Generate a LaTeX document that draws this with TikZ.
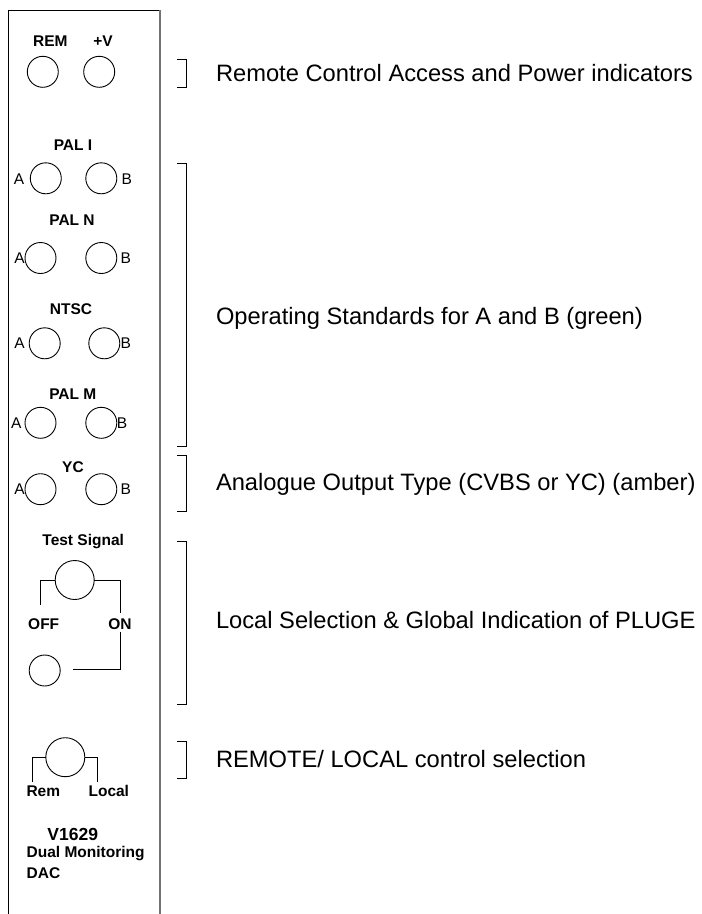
\documentclass[tikz,border=0pt]{standalone}
\usepackage{fontspec}
\setmainfont{Liberation Sans}
\begin{document}
\begin{tikzpicture}[x=1pt,y=-1pt,
  every node/.style={inner sep=0pt, outer sep=0pt},
  lamp/.style={circle, draw, line width=0.9pt, minimum size=31pt},
  bigknob/.style={circle, draw, line width=0.9pt, minimum size=39pt},
  lbl/.style={font=\fontsize{15.5}{18}\selectfont\bfseries, anchor=base},
  ab/.style={font=\fontsize{15.5}{18}\selectfont},
  desc/.style={font=\fontsize{23.7}{28}\selectfont, anchor=base west},
  wire/.style={line width=0.9pt},
  brk/.style={line width=0.9pt}]
\useasboundingbox (0,0) rectangle (702,914);

% front panel outline
\draw[line width=0.9pt] (8,914) -- (8,10) -- (160,10);
\draw[line width=1.3pt, black!55] (160,10) -- (160,914);

% remote / power indicators
\node[lbl] (tREM) at (50.3,46.7) {REM};
\node[lbl] (tPV) at (103,46.7) {+V};
\node[lamp] (rem) at (42.8,71.8) {};
\node[lamp] (pv) at (99.2,71.8) {};

% PAL I
\node[lbl] (tPALI) at (73,150) {PAL I};
\node[lamp] (palia) at (45.8,178.3) {};
\node[lamp] (palib) at (101.3,178.3) {};
\node[ab] (palial) at (19,178.8) {A};
\node[ab] (palibl) at (126.7,178.8) {B};

% PAL N
\node[lbl] (tPALN) at (72,225) {PAL N};
\node[lamp] (palna) at (40.5,258) {};
\node[lamp] (palnb) at (101.3,258) {};
\node[ab] (palnal) at (19.5,258) {A};
\node[ab] (palnbl) at (125.7,258) {B};

% NTSC
\node[lbl] (tNTSC) at (71,314.3) {NTSC};
\node[lamp] (ntsca) at (44.7,343.3) {};
\node[lamp] (ntscb) at (104.3,343.3) {};
\node[ab] (ntscal) at (19.5,343.3) {A};
\node[ab] (ntscbl) at (125.7,343.3) {B};

% PAL M
\node[lbl] (tPALM) at (72.8,399) {PAL M};
\node[lamp] (palma) at (40.5,422.8) {};
\node[lamp] (palmb) at (101.3,422.8) {};
\node[ab] (palmal) at (16.3,423) {A};
\node[ab] (palmbl) at (122,423) {B};

% YC
\node[lbl] (tYC) at (73,472.7) {YC};
\node[lamp] (yca) at (40.5,489.2) {};
\node[lamp] (ycb) at (101.3,489.2) {};
\node[ab] (ycal) at (19.5,489.5) {A};
\node[ab] (ycbl) at (125.7,489.5) {B};

% test signal selector
\node[lbl] (tTest) at (83.2,545.5) {Test Signal};
\node[bigknob] (test) at (74.7,580) {};
\node[lamp] (pluge) at (44.7,670.5) {};
\node[lbl] (tOFF) at (43.7,629) {OFF};
\node[lbl] (tON) at (120,629) {ON};
\coordinate (offend) at (40.7,605);
\coordinate (onend) at (120,613.3);
\coordinate (onresume) at (120,631.7);
\coordinate (plugeend) at (72.7,669);
\draw[wire] (test.west) -- (offend |- test.west) -- (offend);
\draw[wire] (test.east) -- (onend |- test.east) -- (onend);
\draw[wire] (onresume) -- (120,669) -- (plugeend);

% remote / local selector
\node[bigknob] (rl) at (65.3,757.2) {};
\node[lbl] (tRem) at (43.3,796.7) {Rem};
\node[lbl] (tLocal) at (108.8,796.7) {Local};
\coordinate (remend) at (32.3,781.7);
\coordinate (localend) at (97.3,781.7);
\draw[wire] (rl.west) -- (remend |- rl.west) -- (remend);
\draw[wire] (rl.east) -- (localend |- rl.east) -- (localend);

% module title
\node[lbl, font=\fontsize{17.5}{20}\selectfont\bfseries] (tV) at (72.8,840.7) {V1629};
\node[lbl, anchor=base west] (tDual) at (26.7,857.7) {Dual Monitoring};
\node[lbl, anchor=base west] (tDAC) at (26.7,878.7) {DAC};

% brackets
\draw[brk] (177,59) -- (186,59) -- (186,87) -- (177,87);
\draw[brk] (177,163) -- (186,163) -- (186,446.7) -- (177,446.7);
\draw[brk] (177,455) -- (186,455) -- (186,511.7) -- (177,511.7);
\draw[brk] (177,541.7) -- (186,541.7) -- (186,704) -- (177,704);
\draw[brk] (177,741) -- (186,741) -- (186,778.3) -- (177,778.3);

% descriptions
\node[desc] (d1) at (216,81) {Remote Control Access and Power indicators};
\node[desc] (d2) at (216,324) {Operating Standards for A and B (green)};
\node[desc] (d3) at (216,490.7) {Analogue Output Type (CVBS or YC) (amber)};
\node[desc] (d4) at (216,628.3) {Local Selection \& Global Indication of PLUGE};
\node[desc] (d5) at (216,767.7) {REMOTE/ LOCAL control selection};
\end{tikzpicture}
\end{document}
